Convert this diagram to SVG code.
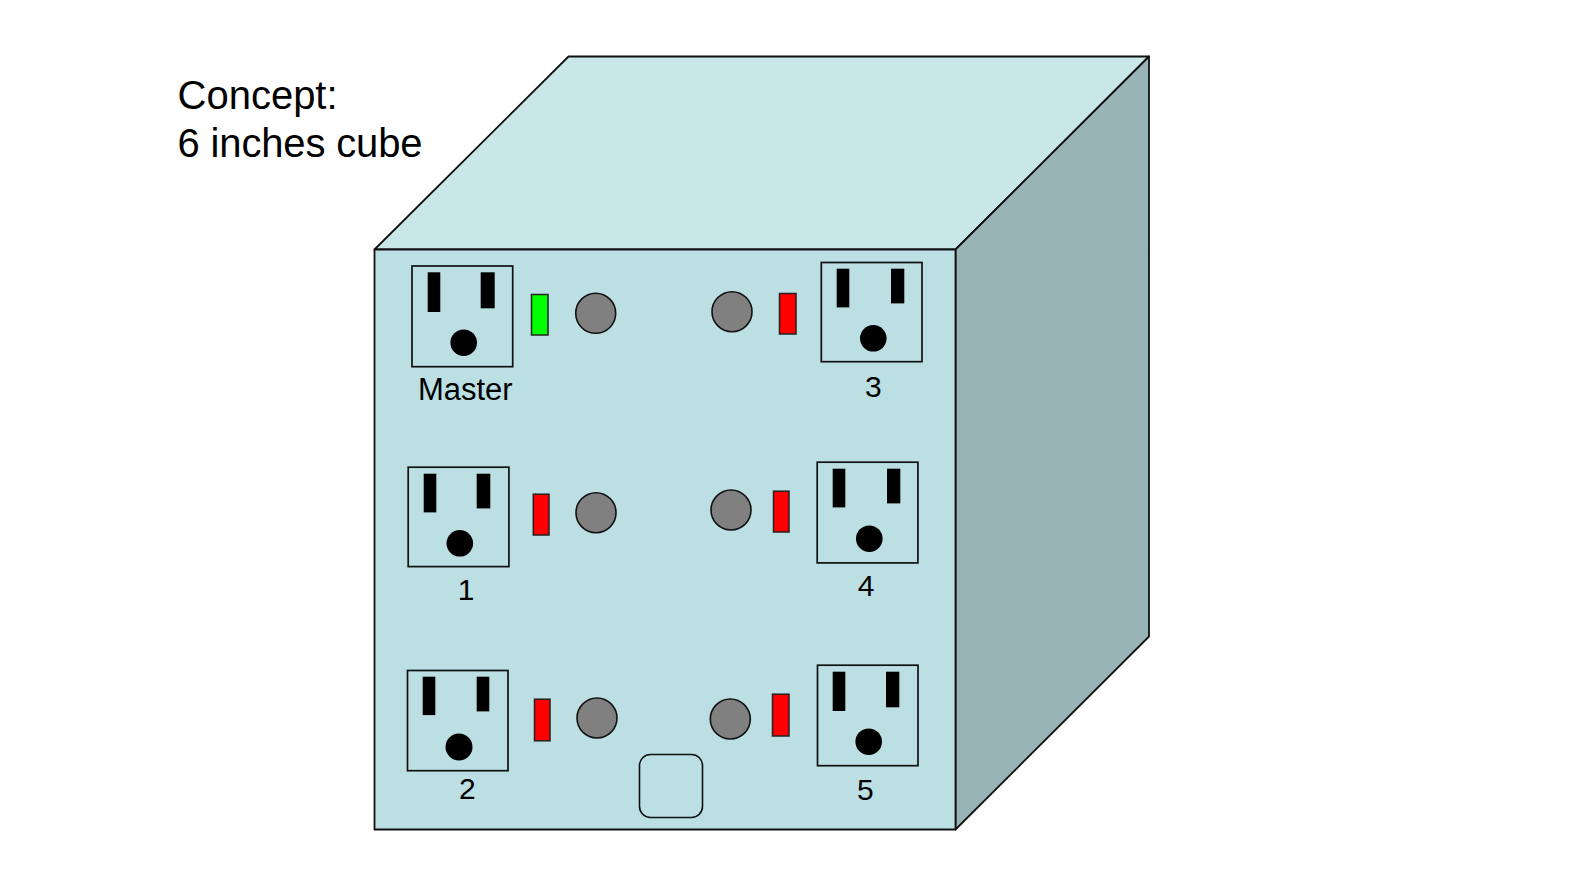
<svg xmlns="http://www.w3.org/2000/svg" width="1591" height="895" viewBox="0 0 1591 895">
<style>
.e{stroke:#111;stroke-width:1.8;stroke-linejoin:round}
.o{fill:none;stroke:#111;stroke-width:1.7}
.s{fill:#000;stroke:none}
.r{fill:#f00;stroke:#222;stroke-width:1.5}
.g{fill:#0f0;stroke:#222;stroke-width:1.5}
.k{fill:#808080;stroke:#111;stroke-width:1.6}
text{font-family:"Liberation Sans",Arial,sans-serif;fill:#000}
.l{font-size:30px;text-anchor:middle}
.m{font-size:31px;text-anchor:middle}
.t{font-size:40px}
</style>
<rect width="1591" height="895" fill="#fff"/>
<g id="cube">
<polygon class="e" fill="#c9e6e8" points="374.500,249.500 568.500,56.500 1149,56.500 955.500,249.500"/>
<polygon class="e" fill="#98b4b6" points="955.500,249.500 1149,56.500 1149,636.500 955.500,829.500"/>
<rect class="e" fill="#bbdfe2" x="374.500" y="249.500" width="581" height="580"/>
<rect id="port" x="639.500" y="754.500" width="63" height="63" rx="11" fill="none" stroke="#111" stroke-width="1.6"/>
</g>
<g id="title"><text class="t" x="177.500" y="109">Concept:</text><text class="t" x="177.500" y="157" textLength="245">6 inches cube</text></g>
<g id="master">
<rect class="o" x="412" y="266" width="100.700" height="100.700"/>
<rect class="s" x="427.700" y="272.300" width="12.600" height="39.700"/>
<rect class="s" x="480.700" y="272.300" width="14" height="36"/>
<circle class="s" cx="463.700" cy="342.700" r="13.300"/>
<rect class="g" x="531.500" y="294.500" width="16.500" height="40.500"/>
<circle class="k" cx="595.700" cy="313.300" r="20"/>
<text class="m" x="465.300" y="399.500">Master</text>
</g>
<g id="socket3">
<rect class="o" x="821.300" y="262.500" width="100.700" height="99.200"/>
<rect class="s" x="836.700" y="268.700" width="12.600" height="38.700"/>
<rect class="s" x="891" y="268.700" width="13.300" height="34.700"/>
<circle class="s" cx="873.300" cy="338.300" r="13.300"/>
<rect class="r" x="779.500" y="293.500" width="16.500" height="40.500"/>
<circle class="k" cx="732" cy="311.700" r="20"/>
<text class="l" x="873.300" y="397">3</text>
</g>
<g id="socket1">
<rect class="o" x="408.200" y="467.200" width="100.700" height="99.400"/>
<rect class="s" x="423.700" y="473.700" width="12.600" height="38.700"/>
<rect class="s" x="476.700" y="473.700" width="13.600" height="34.700"/>
<circle class="s" cx="459.800" cy="543.300" r="13.300"/>
<rect class="r" x="533.300" y="494.200" width="15.700" height="40.800"/>
<circle class="k" cx="596" cy="512.700" r="20"/>
<text class="l" x="466" y="600">1</text>
</g>
<g id="socket4">
<rect class="o" x="817.200" y="462.200" width="100.700" height="100.700"/>
<rect class="s" x="832.700" y="468.700" width="12.600" height="38.700"/>
<rect class="s" x="887" y="468.700" width="13.300" height="34.700"/>
<circle class="s" cx="869.300" cy="538.700" r="13.300"/>
<rect class="r" x="773.500" y="491.200" width="15.500" height="40.800"/>
<circle class="k" cx="731" cy="510" r="20"/>
<text class="l" x="866" y="595.500">4</text>
</g>
<g id="socket2">
<rect class="o" x="407.500" y="670.500" width="100.500" height="100.200"/>
<rect class="s" x="422.700" y="676.700" width="12.600" height="38.400"/>
<rect class="s" x="476.700" y="676.700" width="12.600" height="34.700"/>
<circle class="s" cx="459" cy="747" r="13.500"/>
<rect class="r" x="534.500" y="699.200" width="15.500" height="41.600"/>
<circle class="k" cx="597" cy="718" r="20"/>
<text class="l" x="467.300" y="799">2</text>
</g>
<g id="socket5">
<rect class="o" x="817.500" y="665.200" width="100.500" height="100.500"/>
<rect class="s" x="832.700" y="671.700" width="12.600" height="39.300"/>
<rect class="s" x="886" y="671.700" width="13.300" height="35.600"/>
<circle class="s" cx="868.700" cy="741.700" r="13.300"/>
<rect class="r" x="772.500" y="694.200" width="16.500" height="41.800"/>
<circle class="k" cx="730.300" cy="719" r="20"/>
<text class="l" x="865.300" y="799.500">5</text>
</g>
<g id="connectors"></g>
</svg>
